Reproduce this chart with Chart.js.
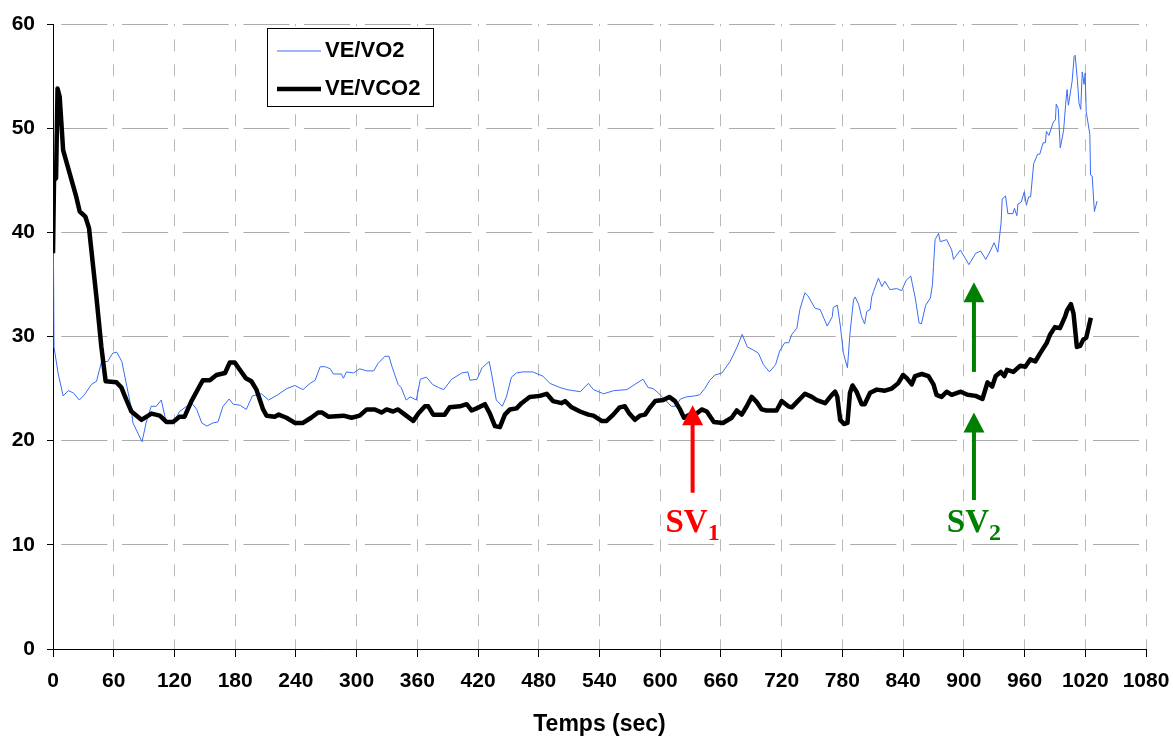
<!DOCTYPE html>
<html>
<head>
<meta charset="utf-8">
<title>VE/VO2 - VE/VCO2</title>
<script src="https://cdn.jsdelivr.net/npm/chart.js@4.4.1/dist/chart.umd.min.js"></script>
<style>
  html, body { margin: 0; padding: 0; background: #fff; }
</style>
</head>
<body>
<canvas id="chart" width="1173" height="738"></canvas>
<script>
// Temps (sec) / VE/VO2
const veo2Time = [
  0, 1, 5, 10, 15, 20, 26, 31, 38, 43,
  48, 54, 59, 63, 68, 73, 77, 79, 88, 92,
  97, 102, 107, 112, 119, 125, 132, 138, 142, 147,
  152, 158, 163, 168, 174, 178, 185, 191, 197, 206,
  213, 222, 231, 239, 247, 254, 259, 264, 269, 274,
  277, 285, 287, 290, 297, 303, 310, 317, 321, 328,
  332, 335, 341, 344, 349, 353, 359, 363, 369, 375,
  381, 386, 394, 404, 410, 412, 419, 424, 431, 433,
  438, 444, 448, 453, 458, 464, 474, 484, 491, 501,
  508, 521, 529, 534, 544, 554, 567, 575, 583, 588,
  593, 598, 603, 611, 615, 620, 626, 634, 639, 644,
  649, 654, 661, 669, 676, 681, 686, 692, 697, 702,
  708, 714, 718, 723, 727, 730, 735, 738, 743, 746,
  753, 758, 765, 770, 771, 775, 778, 781, 785, 787.5,
  791, 792.6, 796, 799, 802, 804, 807.4, 809, 810.7, 815.6,
  819, 822, 827, 833.7, 838.6, 843, 847.6, 849, 852, 855.8,
  858, 862.3, 867, 869, 870, 871.6, 875, 876.7, 883, 888,
  889.8, 896.5, 901.5, 905, 911.8, 916.7, 921.7, 926.6, 929.9, 933.6,
  936.8, 937.9, 941.2, 943.5, 948.5, 950, 952.4, 953.4, 956.7, 959.8,
  961.8, 964, 966, 969, 973, 975, 978.4, 980.6, 981.6, 984,
  988.5, 990.5, 991.3, 993.3, 995.3, 998.6, 1000.6, 1002, 1003.3, 1007,
  1009, 1010, 1012.2, 1013.8, 1015.5, 1017, 1018.8, 1019.9, 1020.9, 1024.5,
  1025.2, 1026.8, 1029, 1031.7
];
const veo2 = [
  45, 29, 26.5, 24.3, 24.8, 24.6, 23.9, 24.4, 25.4, 25.7,
  27.6, 27.6, 28.4, 28.5, 27.6, 25.2, 23.3, 21.7, 19.9, 21.7,
  23.3, 23.3, 23.9, 21.7, 21.7, 22.8, 23.3, 23.5, 23.0, 21.7,
  21.4, 21.7, 21.8, 23.3, 24.0, 23.5, 23.4, 23.0, 24.3, 24.5,
  23.9, 24.4, 25.0, 25.3, 24.9, 25.5, 25.8, 27.1, 27.1, 26.9,
  26.4, 26.4, 26.0, 26.6, 26.5, 26.9, 26.7, 26.7, 27.4, 28.1,
  28.1, 27.1, 25.4, 25.1, 23.9, 24.2, 23.9, 25.9, 26.1, 25.4,
  25.1, 24.9, 25.9, 26.5, 26.6, 25.8, 25.9, 27.0, 27.6, 26.6,
  23.9, 23.3, 24.2, 26.1, 26.5, 26.6, 26.6, 26.2, 25.5, 25.1,
  24.9, 24.7, 25.5, 24.9, 24.5, 24.8, 24.9, 25.4, 25.9, 25.1,
  25.0, 24.6, 24.1, 23.3, 23.3, 24.0, 24.2, 24.3, 24.4, 25.0,
  25.8, 26.3, 26.5, 27.6, 29.0, 30.2, 29.0, 28.7, 28.4, 27.3,
  26.6, 27.3, 28.6, 29.4, 29.4, 30.2, 30.8, 32.6, 34.2, 33.9,
  32.7, 32.6, 31.0, 31.9, 32.8, 33.0, 31.0, 28.4, 27.0, 30.3,
  33.5, 33.8, 33.1, 31.9, 31.2, 32.4, 32.6, 33.8, 34.3, 35.6,
  34.8, 35.3, 34.5, 34.6, 34.4, 35.4, 35.8, 35.1, 33.7, 31.3,
  31.2, 33.0, 33.7, 35.0, 36.7, 39.3, 39.9, 39.1, 39.3, 38.3,
  37.4, 38.3, 37.5, 36.9, 38.0, 38.2, 37.4, 38.3, 39.0, 38.1,
  40.9, 43.2, 43.5, 41.8, 41.8, 42.3, 41.6, 42.7, 42.9, 43.9,
  42.6, 43.4, 43.4, 46.6, 47.5, 47.5, 48.6, 48.6, 49.7, 49.3,
  50.6, 50.8, 52.3, 51.9, 48.1, 49.8, 52.3, 53.7, 52.2, 54.5,
  56.9, 57.0, 54.6, 52.4, 51.8, 55.4, 54.2, 55.3, 51.6, 49.4,
  45.5, 45.4, 42.0, 43.0
];

// Temps (sec) / VE/VCO2
const vco2Time = [
  0, 1, 3, 4.5, 6.6, 10, 23, 26.4, 32, 35.6,
  42.9, 47.8, 52, 62.7, 67.6, 72.6, 77.5, 87.4, 97.3, 105.5,
  112, 118.6, 125, 130, 136.8, 148, 155, 161.5, 170, 174.7,
  179.6, 184.6, 190.5, 196, 201, 207.6, 211, 219, 223, 230.7,
  239, 247, 255, 262, 266, 272, 287, 295, 303, 310,
  318, 324.6, 329.6, 336, 341, 347.7, 356, 361, 367.5, 370.8,
  375.7, 387, 392, 402, 408.7, 413.6, 418.6, 426.8, 431.7, 436.7,
  441.6, 446.5, 451.5, 458, 463, 471, 481, 487.8, 494, 502.6,
  506, 512.5, 520.7, 529, 534, 542, 547, 553.6, 560, 565,
  569.5, 575, 580, 585, 590, 595, 603, 609, 614.6, 619.6,
  623.5, 629, 636, 641, 646, 653, 662, 670.6, 675.6, 680.5,
  685.5, 690.4, 695.4, 700.3, 705, 715, 720, 726.6, 730, 735,
  743, 749.8, 754.7, 763, 769.6, 772.8, 775, 777.8, 781.7, 785,
  787.5, 790, 794, 799, 802, 807.4, 814, 822, 828.8, 835,
  840, 843.6, 848.5, 851.8, 858.5, 865, 870, 873, 878, 883,
  888, 897, 903.6, 911.8, 918.4, 923.4, 928, 931.5, 936.5, 940,
  942.6, 949, 955.8, 960.7, 965.6, 970.6, 975.5, 982, 985.3, 990,
  995, 1000, 1002, 1005.8, 1008.4, 1011.7, 1015, 1018, 1021, 1025.5
];
const vco2 = [
  38, 45, 45.2, 53.8, 53.0, 47.9, 43.4, 42.0, 41.5, 40.4,
  33.8, 29.0, 25.7, 25.6, 25.1, 23.9, 22.8, 22.0, 22.6, 22.4,
  21.8, 21.8, 22.3, 22.3, 23.8, 25.8, 25.8, 26.3, 26.5, 27.5,
  27.5, 26.8, 26.0, 25.7, 24.9, 23.0, 22.4, 22.3, 22.5, 22.2,
  21.7, 21.7, 22.2, 22.7, 22.7, 22.3, 22.4, 22.2, 22.4, 23.0,
  23.0, 22.7, 23.0, 22.8, 23.0, 22.5, 21.9, 22.6, 23.3, 23.3,
  22.5, 22.5, 23.2, 23.3, 23.5, 22.9, 23.1, 23.5, 22.6, 21.4,
  21.3, 22.5, 23.0, 23.1, 23.6, 24.2, 24.3, 24.5, 23.8, 23.6,
  23.8, 23.2, 22.8, 22.5, 22.4, 21.9, 21.9, 22.5, 23.2, 23.3,
  22.6, 22.0, 22.4, 22.5, 23.2, 23.8, 23.9, 24.2, 23.8, 23.0,
  22.2, 22.5, 22.6, 23.0, 22.8, 21.8, 21.7, 22.2, 22.9, 22.5,
  23.3, 24.2, 23.7, 23.0, 22.9, 22.9, 23.8, 23.3, 23.2, 23.7,
  24.5, 24.2, 23.9, 23.6, 24.4, 24.7, 24.2, 22.0, 21.6, 21.7,
  24.6, 25.3, 24.7, 23.5, 23.5, 24.6, 24.9, 24.8, 25.0, 25.5,
  26.3, 26.0, 25.4, 26.2, 26.4, 26.2, 25.4, 24.4, 24.2, 24.7,
  24.4, 24.7, 24.4, 24.3, 24.0, 25.6, 25.2, 26.2, 26.6, 26.2,
  26.8, 26.6, 27.2, 27.1, 27.8, 27.6, 28.4, 29.4, 30.2, 30.9,
  30.8, 31.9, 32.5, 33.1, 32.2, 29.0, 29.1, 29.7, 29.9, 31.8
];

const xTickValues = [0, 60, 120, 180, 240, 300, 360, 420, 480, 540, 600, 660, 720, 780, 840, 900, 960, 1020, 1080];
const yTickValues = [0, 10, 20, 30, 40, 50, 60];

// seuils ventilatoires: temps, bas et haut de la fleche
const thresholdNames = ['1', '2', '2'];
const thresholdTime = [632, 910, 910];
const thresholdFrom = [15.0, 26.6, 14.3];
const thresholdTo = [23.4, 35.2, 22.7];
const thresholdText = [true, false, true];

const FONT = '"Liberation Sans", Arial, sans-serif';
const SERIF = '"Liberation Serif", "Times New Roman", serif';
const thresholdColors = ['#ff0000', '#008000', '#008000'];

const legendBox = {
  id: 'legendBox',
  afterDraw(chart) {
    const ctx = chart.ctx;
    ctx.save();
    ctx.fillStyle = '#fff';
    ctx.fillRect(267.5, 28.5, 166, 78);
    ctx.strokeStyle = '#000';
    ctx.lineWidth = 1;
    ctx.strokeRect(267.5, 28.5, 166, 78);
    const rows = [51, 89];
    chart.data.datasets.forEach((ds, i) => {
      const y = rows[i];
      ctx.strokeStyle = ds.borderColor;
      ctx.lineWidth = ds.borderWidth;
      ctx.beginPath();
      ctx.moveTo(277, y);
      ctx.lineTo(321, y);
      ctx.stroke();
      ctx.fillStyle = '#000';
      ctx.font = 'bold 22px ' + FONT;
      ctx.textBaseline = 'middle';
      ctx.textAlign = 'left';
      ctx.fillText(ds.label, 325, y);
    });
    ctx.restore();
  }
};

const arrows = {
  id: 'arrows',
  afterDatasetsDraw(chart) {
    const {ctx, scales: {x, y}} = chart;
    ctx.save();
    thresholdTime.forEach((t, i) => {
      const px = x.getPixelForValue(t);
      const yBottom = y.getPixelForValue(thresholdFrom[i]);
      const yTip = y.getPixelForValue(thresholdTo[i]);
      const color = thresholdColors[i];
      ctx.strokeStyle = color;
      ctx.fillStyle = color;
      ctx.lineWidth = 4;
      ctx.beginPath();
      ctx.moveTo(px, yBottom);
      ctx.lineTo(px, yTip + 18);
      ctx.stroke();
      ctx.beginPath();
      ctx.moveTo(px, yTip);
      ctx.lineTo(px - 10.5, yTip + 20);
      ctx.lineTo(px + 10.5, yTip + 20);
      ctx.closePath();
      ctx.fill();

      if (thresholdText[i]) {
        const base = y.getPixelForValue(11.2);
        ctx.font = 'bold 33px ' + SERIF;
        const w1 = ctx.measureText('SV').width;
        ctx.font = 'bold 24px ' + SERIF;
        const w2 = ctx.measureText(thresholdNames[i]).width;
        const x0 = px - (w1 + w2) / 2;
        ctx.textBaseline = 'alphabetic';
        ctx.textAlign = 'left';
        ctx.font = 'bold 33px ' + SERIF;
        ctx.fillText('SV', x0, base);
        ctx.font = 'bold 24px ' + SERIF;
        ctx.fillText(thresholdNames[i], x0 + w1, base + 8);
      }
    });
    ctx.restore();
  }
};

new Chart(document.getElementById('chart'), {
  type: 'line',
  data: {
    datasets: [
      {
        label: 'VE/VO2',
        data: veo2Time.map((t, i) => ({ x: t, y: veo2[i] })),
        borderColor: '#3a6cf4',
        borderWidth: 1,
        order: 1
      },
      {
        label: 'VE/VCO2',
        data: vco2Time.map((t, i) => ({ x: t, y: vco2[i] })),
        borderColor: '#000000',
        borderWidth: 4.5,
        borderJoinStyle: 'round',
        order: 0
      }
    ]
  },
  options: {
    responsive: false,
    animation: false,
    layout: { padding: { left: 0, right: 27, top: 24, bottom: 0 } },
    elements: { point: { radius: 0 }, line: { tension: 0 } },
    plugins: { legend: { display: false }, tooltip: { enabled: false } },
    scales: {
      x: {
        type: 'linear',
        min: 0,
        max: 1080,
        afterBuildTicks: s => { s.ticks = xTickValues.map(v => ({ value: v })); },
        afterFit: s => {
          s.height = 89;
          s.paddingLeft = 0;
          s.paddingRight = 0;
        },
        ticks: {
          autoSkip: false,
          maxRotation: 0,
          padding: 12,
          color: '#000',
          font: { family: FONT, size: 21, weight: 'bold' },
          callback: v => String(v)
        },
        grid: {
          color: '#b8b8b8',
          lineWidth: 1,
          tickLength: 8,
          tickColor: '#000',
          tickBorderDash: []
        },
        border: { color: '#000', width: 1, dash: [12, 13], dashOffset: 9.7 },
        title: {
          display: true,
          text: 'Temps (sec)',
          color: '#000',
          padding: 0,
          font: { family: FONT, size: 23, weight: 'bold' }
        }
      },
      y: {
        min: 0,
        max: 60,
        afterBuildTicks: s => { s.ticks = yTickValues.map(v => ({ value: v })); },
        afterFit: s => {
          s.width = 53;
          s.paddingTop = 0;
          s.paddingBottom = 0;
        },
        ticks: {
          padding: 12,
          color: '#000',
          font: { family: FONT, size: 21, weight: 'bold' },
          callback: v => String(v)
        },
        grid: {
          color: '#ababab',
          lineWidth: 1,
          tickLength: 6,
          tickColor: '#000',
          tickBorderDash: []
        },
        border: { color: '#000', width: 1, dash: [46, 14.69], dashOffset: 53.35 }
      }
    }
  },
  plugins: [arrows, legendBox]
});
</script>
</body>
</html>
